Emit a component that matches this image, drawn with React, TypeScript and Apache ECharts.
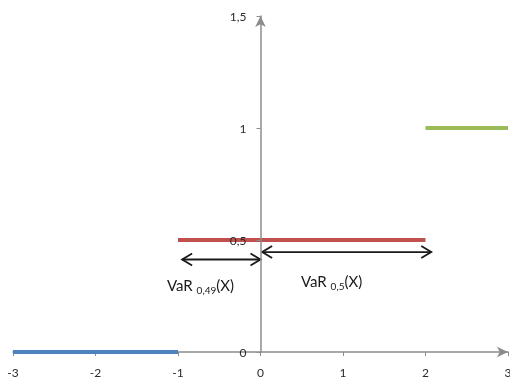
import React, { useEffect, useRef } from "react";
import * as echarts from "echarts";

// Step function segments of the distribution: [x, level] endpoints
const blueSegment: number[][] = [[-3, 0], [-1, 0]];
const redSegment: number[][] = [[-1, 0.5], [2, 0.5]];
const greenSegment: number[][] = [[2, 1], [3, 1]];

// Double-headed arrows: [xFrom, xTo, y]
const arrows: number[][] = [
  [-0.95, 0, 0.413],
  [0.02, 2.07, 0.446],
];

const xTicks = [-3, -2, -1, 0, 1, 2, 3];
const yTicks = [0, 0.5, 1, 1.5];

const FONT = "Lato, 'Open Sans', sans-serif";
const AXIS_GRAY = "#8c8c8c";
const GRID = { left: 13, right: 2, top: 16, bottom: 26 };

export default function App() {
  const ref = useRef<HTMLDivElement>(null);

  useEffect(() => {
    if (!ref.current) return;
    const chart = echarts.init(ref.current, undefined, { renderer: "svg" });

    const lineSeries = (data: number[][], color: string) => ({
      type: "line",
      data,
      showSymbol: false,
      symbol: "none",
      lineStyle: { color, width: 4, cap: "butt" },
      z: 3,
    });

    const richStyles = {
      a: { fontSize: 15, fontFamily: FONT, fill: "#1a1a1a", lineHeight: 20, verticalAlign: "bottom" },
      b: { fontSize: 10, fontFamily: FONT, fill: "#1a1a1a", lineHeight: 12, verticalAlign: "bottom", padding: [0, 0, -3, 0] },
    };

    chart.setOption({
      animation: false,
      grid: { ...GRID, containLabel: false, outerBoundsMode: "none" },
      xAxis: {
        type: "value",
        min: xTicks[0],
        max: xTicks[xTicks.length - 1],
        interval: 1,
        axisLine: {
          onZero: true,
          lineStyle: { color: AXIS_GRAY, width: 1.5 },
          symbol: ["none", "arrow"],
          symbolSize: [8, 11],
        },
        axisTick: { show: true, length: 4, lineStyle: { color: AXIS_GRAY } },
        axisLabel: {
          margin: 14,
          color: "#2b2b2b",
          fontFamily: FONT,
          fontSize: 12,
          showMinLabel: true,
          showMaxLabel: true,
        },
        splitLine: { show: false },
      },
      yAxis: {
        type: "value",
        z: 5,
        min: yTicks[0],
        max: yTicks[yTicks.length - 1],
        interval: 0.5,
        axisLine: {
          onZero: false,
          lineStyle: { color: AXIS_GRAY, width: 1.5 },
          symbol: ["none", "arrow"],
          symbolSize: [8, 11],
        },
        axisTick: { show: true, length: 4, lineStyle: { color: AXIS_GRAY } },
        axisLabel: {
          margin: 14,
          color: "#2b2b2b",
          fontFamily: FONT,
          fontSize: 12,
          formatter: (v: number) => String(v).replace(".", ","),
        },
        splitLine: { show: false },
      },
      series: [
        lineSeries(blueSegment, "#4f81bd"),
        lineSeries(redSegment, "#c0504d"),
        lineSeries(greenSegment, "#9bbb59"),
        {
          type: "custom",
          data: arrows,
          z: 4,
          renderItem: (_params: any, api: any) => {
            const x1 = api.value(0);
            const x2 = api.value(1);
            const y = api.value(2);
            const p1 = api.coord([x1, y]);
            const p2 = api.coord([x2, y]);
            const hl = 10;
            const hh = 6;
            const style = { stroke: "#1a1a1a", lineWidth: 1.8, fill: "none" };
            return {
              type: "group",
              children: [
                { type: "line", shape: { x1: p1[0], y1: p1[1], x2: p2[0], y2: p2[1] }, style },
                {
                  type: "polyline",
                  shape: { points: [[p1[0] + hl, p1[1] - hh], [p1[0], p1[1]], [p1[0] + hl, p1[1] + hh]] },
                  style,
                },
                {
                  type: "polyline",
                  shape: { points: [[p2[0] - hl, p2[1] - hh], [p2[0], p2[1]], [p2[0] - hl, p2[1] + hh]] },
                  style,
                },
              ],
            };
          },
        },
      ],
      graphic: [
        { type: "text", left: 167, top: 277, style: { text: "{a|VaR }{b|0,49}{a|(X)}", rich: richStyles } },
        { type: "text", left: 301, top: 273, style: { text: "{a|VaR }{b|0,5}{a|(X)}", rich: richStyles } },
      ],
    });

    // Place the vertical axis (with its labels and ticks) where x = 0.
    const zeroPx = chart.convertToPixel({ xAxisIndex: 0 }, 0) as number;
    chart.setOption({ yAxis: { offset: -(zeroPx - GRID.left) } });

    return () => chart.dispose();
  }, []);

  return <div ref={ref} style={{ position: "fixed", left: 0, top: 0, width: 510, height: 378 }} />;
}
